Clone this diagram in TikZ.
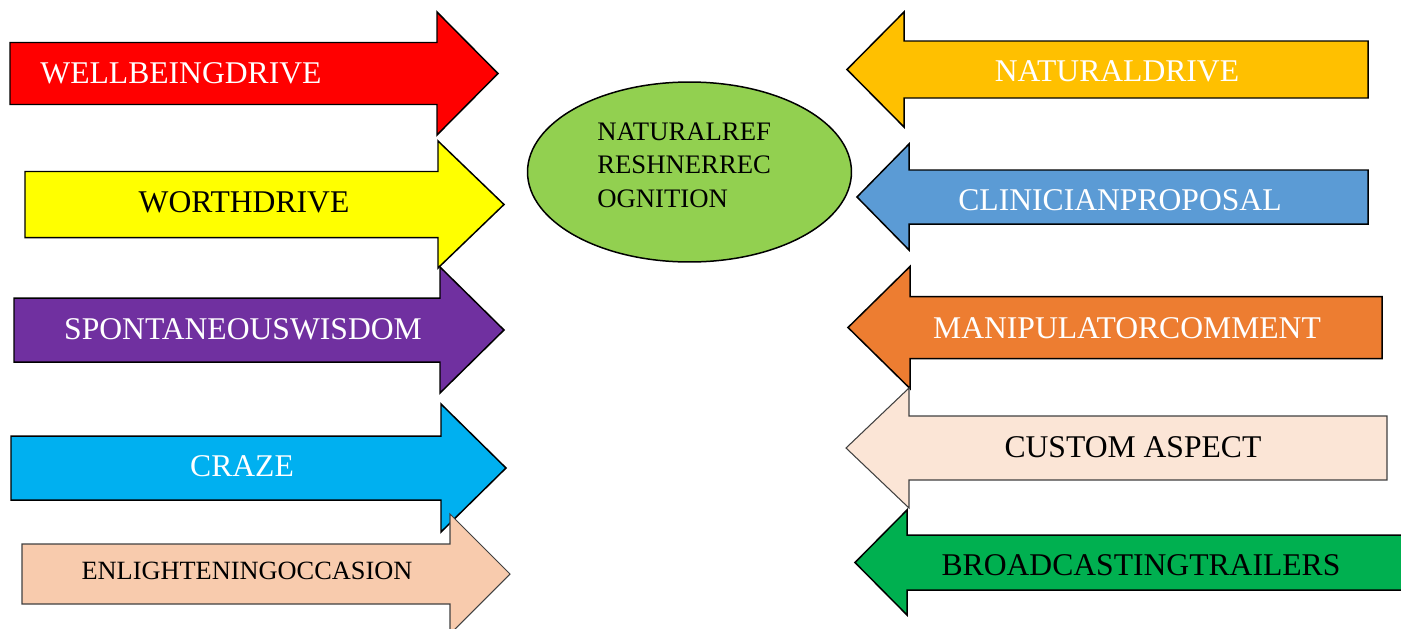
\documentclass[tikz,border=0pt]{standalone}
\usepackage{fontspec}
\setmainfont{Liberation Serif}
\usetikzlibrary{shapes.geometric}
\definecolor{wellred}{HTML}{FF0000}
\definecolor{worthyellow}{HTML}{FFFF00}
\definecolor{wisdompurple}{HTML}{7030A0}
\definecolor{crazeblue}{HTML}{00B0F0}
\definecolor{occasionpeach}{HTML}{F8CBAD}
\definecolor{driveamber}{HTML}{FFC000}
\definecolor{clinicblue}{HTML}{5B9BD5}
\definecolor{commentorange}{HTML}{ED7D31}
\definecolor{aspectcream}{HTML}{FBE5D6}
\definecolor{trailergreen}{HTML}{00B050}
\definecolor{coregreen}{HTML}{92D050}
\tikzset{
  bigarrow/.style={draw=black,line width=0.85pt,line join=miter,fill=#1},
  palearrow/.style={draw=black!75,line width=0.6pt,line join=miter,fill=#1},
  caption/.style={anchor=base,inner sep=0pt,font=\fontsize{18}{21}\selectfont},
  smallcaption/.style={anchor=base,inner sep=0pt,font=\fontsize{15}{18}\selectfont}
}

\begin{document}
\begin{tikzpicture}[x=0.02cm,y=-0.02cm]
% style, end of body, head base, tip, mid y, half body, half head
\newcommand{\flatarrow}[7]{%
  \filldraw[#1] (#2,#5-#6) -- (#3,#5-#6) -- (#3,#5-#7) -- (#4,#5)
    -- (#3,#5+#7) -- (#3,#5+#6) -- (#2,#5+#6) -- cycle;}

\useasboundingbox (0,0) rectangle (1401,629);
\clip (0,0) rectangle (1401,629);

\flatarrow{bigarrow=wellred}{10}{437}{498}{73.5}{31}{61.5}
\flatarrow{bigarrow=worthyellow}{25}{438}{504}{204.5}{33}{63.5}
\flatarrow{bigarrow=wisdompurple}{14}{440}{504}{330}{32}{63}
\flatarrow{bigarrow=crazeblue}{11}{441}{506}{468}{32}{64}
\flatarrow{palearrow=occasionpeach}{22}{450}{510}{574}{30}{60}

\flatarrow{bigarrow=driveamber}{1368}{904}{847}{69.5}{28.5}{57.5}
\flatarrow{bigarrow=clinicblue}{1368}{909}{857}{197}{27}{53}
\flatarrow{bigarrow=commentorange}{1382}{910}{848}{327.5}{31}{61}
\flatarrow{palearrow=aspectcream}{1387}{909}{846}{448}{32}{60}
\flatarrow{bigarrow=trailergreen}{1420}{907}{855}{562.5}{27.5}{52.5}

\node[caption,text=white] (wellbeing) at (181,83) {WELLBEINGDRIVE};
\node[caption] (worth) at (244,212) {WORTHDRIVE};
\node[caption,text=white] (wisdom) at (243,339) {SPONTANEOUSWISDOM};
\node[caption,text=white] (craze) at (242,476) {CRAZE};
\node[smallcaption] (occasion) at (247,579) {ENLIGHTENINGOCCASION};

\node[caption,text=white] (naturaldrive) at (1117,81) {NATURALDRIVE};
\node[caption,text=white] (clinician) at (1120,210) {CLINICIANPROPOSAL};
\node[caption,text=white] (manipulator) at (1127,338) {MANIPULATORCOMMENT};
\node[caption] (aspect) at (1133,457) {CUSTOM ASPECT};
\node[caption] (trailers) at (1141,575) {BROADCASTINGTRAILERS};

\node[ellipse,draw=black,line width=0.85pt,fill=coregreen,inner sep=0pt,
  minimum width=6.48cm,minimum height=3.6cm] (core) at (689.5,172) {};
\node[anchor=west,inner sep=0pt,align=left,
  font=\fontsize{15.2}{19}\selectfont] (coretext) at (597,165)
  {NATURALREF\\RESHNERREC\\OGNITION};
\end{tikzpicture}
\end{document}
